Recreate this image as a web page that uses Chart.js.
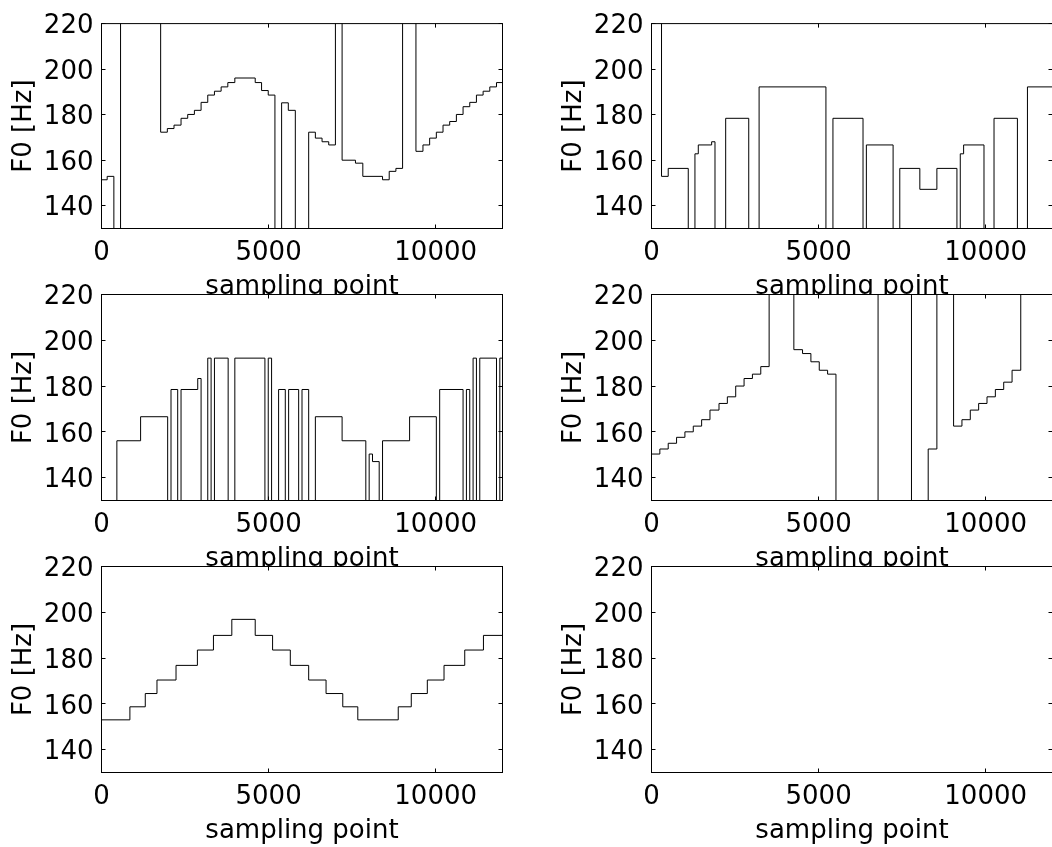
<!DOCTYPE html>
<html>
<head>
<meta charset="utf-8">
<script src="https://cdn.jsdelivr.net/npm/chart.js@4.4.1/dist/chart.umd.min.js"></script>
<style>
  html, body { margin: 0; padding: 0; background: #fff; }
  #fig { position: relative; width: 1052px; height: 847px; overflow: hidden; background: #fff; }
  #fig canvas { position: absolute; left: 0; top: 0; }
</style>
</head>
<body>
<div id="fig"></div>
<script>
// ---- axis setup ----
const xRange = [0, 12000];
const yRange = [130, 220];
const xTicks = [0, 5000, 10000];
const yTicks = [140, 160, 180, 200, 220];
const xLabel = 'sampling point';
const yLabel = 'F0 [Hz]';

// ---- F0 tracks: segment start (sampling point) and F0 value [Hz] ----
// 0 = unvoiced frame, 400 = octave-jump estimate (both fall outside the axis range)
const p1Start = [0, 170, 370, 570, 1770, 1970, 2170, 2380, 2580, 2780, 2980, 3180, 3380, 3580, 3780, 3990,
  4600, 4790, 4990, 5190, 5390, 5590, 5800, 6200, 6400, 6600, 6800, 7000, 7200, 7600, 7820, 8410, 8610,
  8810, 9010, 9410, 9620, 9820, 10020, 10220, 10420, 10620, 10820, 11020, 11220, 11420, 11620, 11820];
const p1F0 = [151.4, 152.9, 0, 400, 172.3, 173.9, 175.4, 178.4, 180.1, 181.9, 185.4, 188.6, 190.3, 192.2, 194.1, 196.1,
  194.1, 190.6, 188.6, 0, 185.2, 181.9, 0, 172.3, 169.7, 168.1, 166.7, 400, 160, 158.7, 152.9, 151.4, 155.1,
  156.4, 400, 163.9, 166.7, 169.7, 172.3, 175.4, 177, 180.1, 183.5, 185.4, 188.6, 190.3, 192.2, 194.1];

const p2Start = [0, 300, 500, 1100, 1300, 1400, 1800, 1900, 2220, 2910, 3220, 5220, 5430, 6330, 6430, 7230,
  7430, 8030, 8540, 9140, 9240, 9340, 9950, 10250, 10950, 11250];
const p2F0 = [400, 152.9, 156.4, 0, 162.8, 166.7, 168.1, 0, 178.4, 0, 192.2, 0, 178.4, 0, 166.7, 0,
  156.4, 147.2, 156.4, 0, 162.8, 166.7, 0, 178.4, 0, 192.2];

const p3Start = [0, 460, 1170, 1980, 2080, 2280, 2380, 2880, 2980, 3180, 3280, 3380, 3790, 3990, 4890, 4990,
  5090, 5300, 5500, 5600, 5900, 6000, 6200, 6400, 7200, 7910, 8010, 8110, 8310, 8410, 9220, 10020, 10120,
  10820, 10920, 11020, 11120, 11220, 11320, 11820, 11920];
const p3F0 = [0, 156.1, 166.6, 0, 178.5, 0, 178.5, 183.3, 0, 192.2, 0, 192.2, 0, 192.2, 0, 192.2,
  0, 178.5, 0, 178.5, 0, 178.5, 0, 166.6, 156.1, 0, 150.3, 147, 0, 156.1, 166.6, 0, 178.5,
  0, 178.5, 0, 192.2, 0, 192.2, 0, 192.2];

const p4Start = [0, 250, 500, 750, 1000, 1250, 1500, 1750, 2020, 2270, 2520, 2770, 3020, 3270, 3520,
  4260, 4520, 4770, 5020, 5270, 5520, 6780, 7780, 8280, 8540, 9040, 9290, 9540, 9790, 10040, 10290,
  10540, 10790, 11050];
const p4F0 = [150.3, 152.5, 155, 157.6, 160, 162.5, 165.3, 169.5, 172.4, 175.3, 180, 183.3, 185.2, 188.5, 400,
  195.9, 194.2, 190.6, 186.9, 185.2, 0, 400, 0, 152.5, 400, 162.5, 165.3, 169.5, 172.4, 175.3, 178.5,
  181.7, 186.9, 400];

const p5Start = [0, 850, 1310, 1660, 2230, 2870, 3350, 3900, 4600, 5120, 5650, 6200, 6720, 7220, 7670,
  8880, 9270, 9750, 10250, 10870, 11430];
const p5F0 = [153, 158.7, 164.5, 170.4, 176.8, 183.5, 189.9, 196.9, 189.9, 183.5, 176.8, 170.4, 164.5, 158.7, 153,
  158.7, 164.5, 170.4, 176.8, 183.5, 189.9];

const p6Start = [];
const p6F0 = [];

// ---- figure geometry ----
const CANVAS_W = 1053, CANVAS_H = 847;
const PLOT_W = 401, PLOT_H = 206;
const Y_AXIS_W = 101.5, X_AXIS_H = 74.5;
const COL_LEFT = [101.5, 651.5];
const ROW_TOP = [22.5, 294.5, 566.5];
const TICK_LEN = 4;
const FONT = 'DejaVu Sans';

// White plot background, full box and inward tick marks on all four sides
const axesBox = {
  id: 'axesBox',
  beforeDraw(chart) {
    const { ctx, chartArea: a } = chart;
    ctx.save();
    ctx.fillStyle = '#ffffff';
    ctx.fillRect(a.left, a.top, a.right - a.left, a.bottom - a.top);
    ctx.restore();
  },
  afterDraw(chart) {
    const { ctx, chartArea: a } = chart;
    const xs = chart.scales.x, ys = chart.scales.y;
    const snap = v => Math.round(v - 0.5) + 0.5;
    ctx.save();
    ctx.strokeStyle = '#000';
    ctx.lineWidth = 1;
    ctx.strokeRect(a.left, a.top, a.right - a.left, a.bottom - a.top);
    ctx.beginPath();
    xs.ticks.forEach(t => {
      const px = snap(xs.getPixelForValue(t.value));
      ctx.moveTo(px, a.bottom); ctx.lineTo(px, a.bottom - TICK_LEN);
      ctx.moveTo(px, a.top); ctx.lineTo(px, a.top + TICK_LEN);
    });
    ys.ticks.forEach(t => {
      const py = snap(ys.getPixelForValue(t.value));
      ctx.moveTo(a.left, py); ctx.lineTo(a.left + TICK_LEN, py);
      ctx.moveTo(a.right, py); ctx.lineTo(a.right - TICK_LEN, py);
    });
    ctx.stroke();
    ctx.restore();
  }
};

function track(starts, f0) {
  const pts = starts.map((x, i) => ({ x, y: f0[i] }));
  if (pts.length) pts.push({ x: xRange[1], y: f0[f0.length - 1] });
  return pts;
}

function panel(row, col, starts, f0) {
  const canvas = document.createElement('canvas');
  canvas.width = CANVAS_W;
  canvas.height = CANVAS_H;
  document.getElementById('fig').appendChild(canvas);
  const left = COL_LEFT[col], top = ROW_TOP[row];
  new Chart(canvas, {
    type: 'line',
    data: {
      datasets: [{
        data: track(starts, f0),
        stepped: true,
        borderColor: '#000',
        borderWidth: 1,
        pointRadius: 0,
        fill: false
      }]
    },
    options: {
      responsive: false,
      animation: false,
      devicePixelRatio: 1,
      events: [],
      layout: {
        padding: {
          left: left - Y_AXIS_W,
          top: top,
          right: CANVAS_W - left - PLOT_W,
          bottom: CANVAS_H - top - PLOT_H - X_AXIS_H
        }
      },
      plugins: { legend: { display: false }, tooltip: { enabled: false } },
      scales: {
        x: {
          type: 'linear',
          min: xRange[0], max: xRange[1],
          grid: { display: false, drawTicks: false },
          border: { display: false },
          afterBuildTicks: s => { s.ticks = xTicks.map(v => ({ value: v })); },
          afterFit: s => { s.height = X_AXIS_H; },
          ticks: {
            color: '#000', font: { family: FONT, size: 26 }, padding: 9,
            maxRotation: 0, autoSkip: false, callback: v => String(v)
          },
          title: {
            display: true, text: xLabel, color: '#000',
            font: { family: FONT, size: 26 }, padding: { top: 0, bottom: 0 }
          }
        },
        y: {
          type: 'linear',
          min: yRange[0], max: yRange[1],
          grid: { display: false, drawTicks: false },
          border: { display: false },
          afterBuildTicks: s => { s.ticks = yTicks.map(v => ({ value: v })); },
          afterFit: s => { s.width = Y_AXIS_W; },
          ticks: {
            color: '#000', font: { family: FONT, size: 26 }, padding: 8,
            labelOffset: 3, callback: v => String(v)
          },
          title: {
            display: true, text: yLabel, color: '#000',
            font: { family: FONT, size: 26 }, padding: { top: 9, bottom: 0 }
          }
        }
      }
    },
    plugins: [axesBox]
  });
}

panel(0, 0, p1Start, p1F0);
panel(0, 1, p2Start, p2F0);
panel(1, 0, p3Start, p3F0);
panel(1, 1, p4Start, p4F0);
panel(2, 0, p5Start, p5F0);
panel(2, 1, p6Start, p6F0);
</script>
</body>
</html>
